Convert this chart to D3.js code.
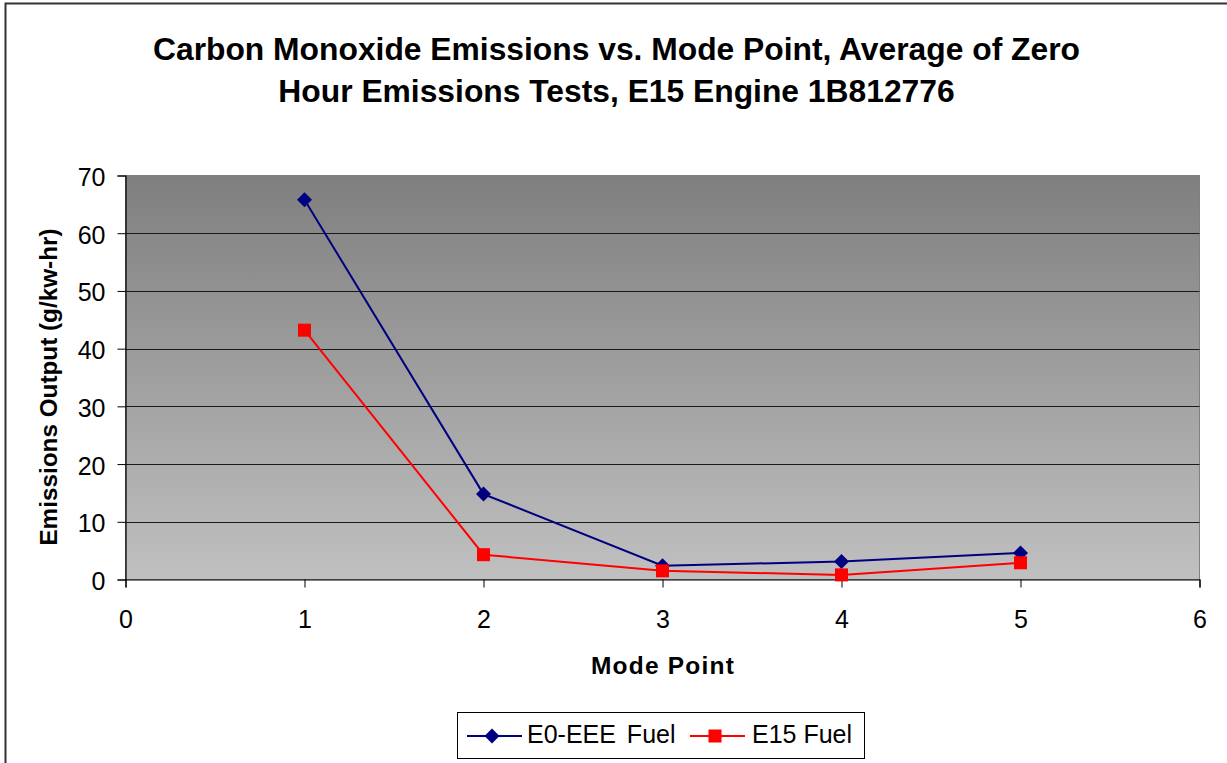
<!DOCTYPE html>
<html>
<head>
<meta charset="utf-8">
<script src="https://cdn.jsdelivr.net/npm/d3@7"></script>
<style>
  html, body { margin: 0; padding: 0; background: #fff; }
  svg { display: block; font-family: "Liberation Sans", Arial, sans-serif; }
</style>
</head>
<body>
<svg id="chart" width="1227" height="763"></svg>
<script>
// Mode points and CO emissions (g/kW-hr) per fuel
const modePoints = [1, 2, 3, 4, 5];
const e0Values = [65.8, 14.8, 2.4, 3.1, 4.6];
const e15Values = [43.2, 4.3, 1.5, 0.8, 2.9];
const seriesNames = ["E0-EEE Fuel", "E15 Fuel"];
const xTicks = [0, 1, 2, 3, 4, 5, 6];
const yTicks = [0, 10, 20, 30, 40, 50, 60, 70];
const titleLines = [
  "Carbon Monoxide Emissions vs. Mode Point, Average of Zero",
  "Hour Emissions Tests, E15 Engine 1B812776"
];

const svg = d3.select("#chart");
const W = 1227, H = 763;
const plot = { left: 125.5, right: 1199.5, top: 175.5, bottom: 579.5 };

// outer chart frame
svg.append("rect")
  .attr("x", 5.5).attr("y", 3.5)
  .attr("width", W + 10).attr("height", H + 10)
  .attr("fill", "#fff").attr("stroke", "#333").attr("stroke-width", 2);

const x = d3.scaleLinear().domain([0, 6]).range([plot.left, plot.right]);
const y = d3.scaleLinear().domain([0, 70]).range([plot.bottom, plot.top]);

// plot area background gradient
const defs = svg.append("defs");
const grad = defs.append("linearGradient")
  .attr("id", "bg").attr("x1", 0).attr("y1", 0).attr("x2", 0).attr("y2", 1);
grad.append("stop").attr("offset", "0%").attr("stop-color", "#7f7f7f");
grad.append("stop").attr("offset", "100%").attr("stop-color", "#c0c0c0");

svg.append("rect")
  .attr("x", plot.left).attr("y", plot.top)
  .attr("width", plot.right - plot.left).attr("height", plot.bottom - plot.top)
  .attr("fill", "url(#bg)").attr("stroke", "#808080").attr("stroke-width", 1);

// horizontal gridlines
svg.append("g").selectAll("line")
  .data(yTicks.filter(d => d > 0 && d < 70))
  .join("line")
  .attr("x1", plot.left).attr("x2", plot.right)
  .attr("y1", d => Math.round(y(d)) + 0.5).attr("y2", d => Math.round(y(d)) + 0.5)
  .attr("stroke", "#1a1a1a").attr("stroke-width", 1);

// axes
const yAxis = svg.append("g")
  .attr("transform", `translate(${plot.left},0)`)
  .call(d3.axisLeft(y).tickValues(yTicks).tickSize(8).tickPadding(12).tickFormat(d3.format("d")));
const xAxis = svg.append("g")
  .attr("transform", `translate(0,${plot.bottom})`)
  .call(d3.axisBottom(x).tickValues(xTicks).tickSize(8).tickPadding(23).tickFormat(d3.format("d")));

[yAxis, xAxis].forEach(a => {
  a.select(".domain").attr("stroke", "#000").attr("stroke-width", 1.2);
  a.selectAll(".tick line").attr("stroke", "#000");
  a.selectAll(".tick text")
    .attr("fill", "#000")
    .style("font-size", "25px")
    .style("font-family", "'Liberation Sans', Arial, sans-serif");
});
yAxis.selectAll(".tick text").attr("dy", "0.4em");

// titles
svg.append("g").selectAll("text")
  .data(titleLines)
  .join("text")
  .attr("x", 616.5).attr("y", (d, i) => 60 + i * 42)
  .attr("text-anchor", "middle")
  .style("font-size", "31.8px").style("font-weight", "bold")
  .text(d => d);

svg.append("text")
  .attr("x", 663).attr("y", 674)
  .attr("text-anchor", "middle")
  .style("font-size", "24.5px").style("font-weight", "bold")
  .style("letter-spacing", "1.2px")
  .text("Mode Point");

svg.append("text")
  .attr("transform", `translate(57,387) rotate(-90)`)
  .attr("text-anchor", "middle")
  .style("font-size", "24.3px").style("font-weight", "bold")
  .text("Emissions Output (g/kw-hr)");

// series
const series = [
  { name: seriesNames[0], values: e0Values, color: "#000080", shape: "diamond" },
  { name: seriesNames[1], values: e15Values, color: "#ff0000", shape: "square" }
];

const line = d3.line().x(d => x(d[0])).y(d => y(d[1]));

function drawMarker(g, shape, color, cx, cy) {
  if (shape === "square") {
    g.append("rect")
      .attr("x", cx - 6.5).attr("y", cy - 6.5).attr("width", 13).attr("height", 13)
      .attr("fill", color);
  } else {
    g.append("path")
      .attr("d", `M${cx},${cy - 7.5}L${cx + 7.5},${cy}L${cx},${cy + 7.5}L${cx - 7.5},${cy}Z`)
      .attr("fill", color);
  }
}

series.forEach(s => {
  const pts = modePoints.map((m, i) => [m, s.values[i]]);
  svg.append("path")
    .datum(pts)
    .attr("d", line)
    .attr("fill", "none")
    .attr("stroke", s.color)
    .attr("stroke-width", 2);
  const g = svg.append("g");
  pts.forEach(p => drawMarker(g, s.shape, s.color, x(p[0]), y(p[1])));
});

// legend
const legend = svg.append("g");
legend.append("rect")
  .attr("x", 457.5).attr("y", 712.5).attr("width", 407).attr("height", 46)
  .attr("fill", "#fff").attr("stroke", "#000").attr("stroke-width", 1);
const legendItems = [
  { s: series[0], x0: 467, tx: 527 },
  { s: series[1], x0: 690, tx: 752 }
];
legendItems.forEach(it => {
  const ly = 736;
  legend.append("line")
    .attr("x1", it.x0).attr("x2", it.x0 + 55)
    .attr("y1", ly).attr("y2", ly)
    .attr("stroke", it.s.color).attr("stroke-width", 2);
  drawMarker(legend, it.s.shape, it.s.color, it.x0 + 25, ly);
  legend.append("text")
    .attr("x", it.tx).attr("y", 743)
    .style("font-size", "25px")
    .style("word-spacing", it.s === series[0] ? "4px" : "0px")
    .text(it.s.name);
});
</script>
</body>
</html>
